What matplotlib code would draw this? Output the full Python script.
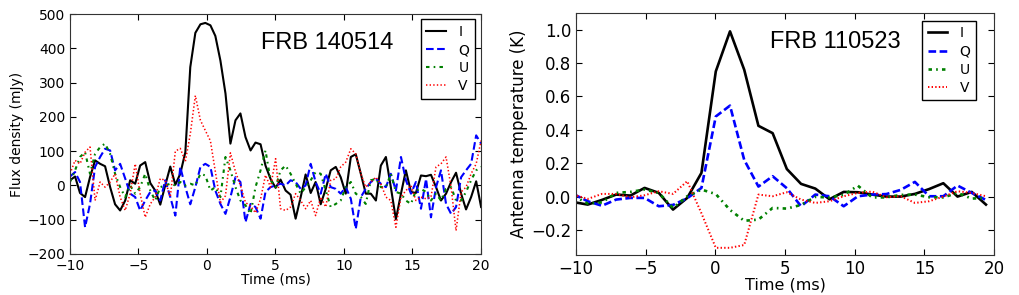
import numpy as np
import matplotlib
matplotlib.use('Agg')
import matplotlib.pyplot as plt

#------------------------------------------------------------------------------#
# FRB 140514 (left panel), flux density in mJy

t_140514 = [-10.00, -9.63, -9.27, -8.90, -8.54, -8.17, -7.80, -7.44, -7.07, -6.71,
            -6.34, -5.97, -5.61, -5.24, -4.88, -4.51, -4.14, -3.78, -3.41, -3.05,
            -2.68, -2.31, -1.95, -1.58, -1.22, -0.85, -0.48, -0.12, 0.25, 0.61,
            0.98, 1.35, 1.71, 2.08, 2.44, 2.81, 3.18, 3.54, 3.91, 4.27,
            4.64, 5.01, 5.37, 5.74, 6.10, 6.47, 6.84, 7.20, 7.57, 7.93,
            8.30, 8.67, 9.03, 9.40, 9.76, 10.13, 10.50, 10.86, 11.23, 11.59,
            11.96, 12.33, 12.69, 13.06, 13.42, 13.79, 14.16, 14.52, 14.89, 15.25,
            15.62, 15.99, 16.35, 16.72, 17.08, 17.45, 17.82, 18.18, 18.55, 18.91,
            19.28, 19.65, 20.01]

I_140514 = [15, 26, -22, -34, 24, 73, 63, 56, -5, -55,
            -73, -44, 15, 5, 58, 68, 7, -15, -56, 0,
            55, 2, 34, 97, 345, 445, 470, 474, 467, 436,
            364, 268, 122, 190, 210, 141, 102, 125, 120, 58,
            19, -7, 17, -15, -27, -97, -34, 32, -22, 10,
            -55, -10, 44, 54, 24, -24, 83, 91, 34, -24,
            -24, -44, 58, 83, -5, -99, -24, 44, -19, -22,
            29, 27, 31, -5, -44, -24, 10, 37, -24, -70,
            -34, 12, -63]

Q_140514 = [26, 39, 10, -122, -54, 54, 83, 107, 102, 44,
            63, 20, -24, -34, -73, -44, -19, -15, -44, 15,
            -34, -88, 54, -5, -55, -5, 54, 63, 54, -15,
            -54, -83, -34, 24, 10, -107, -54, -63, -97, -19,
            -5, 0, 5, 0, 15, 10, -10, 0, 63, 10,
            -24, 34, -5, -10, -24, -5, -39, -127, -34, -10,
            10, 19, 5, -5, 34, -15, 83, 15, -24, 10,
            -68, 19, -93, -5, 44, -54, -83, -63, 24, 44,
            63, 146, 122]

U_140514 = [10, 44, 83, 97, 34, 92, 112, 122, 92, 34,
            -5, -34, 0, -24, -5, 34, -15, -44, -5, 0,
            5, 0, 10, 0, 5, 0, 34, 29, -15, -5,
            -34, 83, 44, -5, -44, -58, -83, -5, 44, 102,
            15, -5, 44, 58, 34, 5, -24, -5, 15, 39,
            34, -15, -63, -54, -44, -5, 10, -24, -34, -54,
            15, 19, -5, -5, 34, -19, -24, -44, -54, -15,
            -10, -19, -44, -24, -44, -10, -5, -44, -44, -19,
            15, 44, 54]

V_140514 = [34, 73, 63, 97, 112, -44, 10, -5, 10, 34,
            -34, -73, -24, 63, -24, -93, -54, -34, 20, 15,
            -34, 100, 108, 70, 150, 262, 190, 160, 130, 40,
            -50, -30, 95, 40, 0, -50, -60, -80, -40, 30,
            -5, 78, -68, -73, -63, -24, -44, -68, -44, -88,
            -34, -63, 15, 19, 54, 68, 107, 92, 34, -5,
            10, 24, 5, -34, -44, -122, -34, -15, 0, -44,
            -34, -39, -34, 54, 63, 83, -5, -132, -19, -5,
            34, 63, 131]

#------------------------------------------------------------------------------#
# FRB 110523 (right panel), antenna temperature in K

t_110523 = [-10.18, -9.16, -8.14, -7.12, -6.10, -5.08, -4.06, -3.04, -2.02, -1.00,
            0.03, 1.05, 2.07, 3.09, 4.11, 5.13, 6.15, 7.17, 8.19, 9.21,
            10.23, 11.25, 12.27, 13.30, 14.32, 15.34, 16.36, 17.38, 18.40, 19.42]

I_110523 = [-0.033, -0.048, -0.020, 0.012, 0.006, 0.052, 0.022, -0.078, -0.008, 0.142,
            0.750, 0.990, 0.760, 0.424, 0.380, 0.165, 0.076, 0.048, -0.016, 0.028,
            0.026, 0.012, 0.000, 0.000, 0.016, 0.045, 0.080, 0.000, 0.028, -0.048]

Q_110523 = [0.015, -0.028, -0.055, -0.018, -0.008, -0.008, -0.058, -0.050, -0.010, 0.052,
            0.480, 0.545, 0.220, 0.060, 0.122, 0.050, -0.058, 0.012, 0.002, -0.058,
            0.002, 0.012, 0.015, 0.040, 0.088, 0.002, 0.002, 0.066, 0.022, -0.020]

U_110523 = [0.005, -0.042, -0.035, 0.022, 0.028, 0.042, 0.022, -0.068, 0.002, 0.042,
            0.015, -0.080, -0.145, -0.138, -0.068, -0.072, -0.050, -0.002, -0.005, 0.010,
            0.065, -0.005, -0.005, 0.010, 0.012, -0.004, -0.005, 0.022, -0.012, -0.008]

V_110523 = [0.012, -0.014, 0.016, 0.016, -0.004, 0.008, 0.032, 0.016, 0.092, -0.100,
            -0.307, -0.307, -0.290, 0.012, 0.002, 0.026, -0.018, -0.038, -0.028, 0.002,
            0.022, 0.030, -0.004, 0.002, -0.038, -0.028, 0.000, 0.032, 0.022, 0.002]

#------------------------------------------------------------------------------#

plt.rcParams['xtick.direction'] = 'in'
plt.rcParams['ytick.direction'] = 'in'
plt.rcParams['xtick.top'] = True
plt.rcParams['ytick.right'] = True
plt.rcParams['legend.fancybox'] = False
plt.rcParams['legend.edgecolor'] = 'black'
plt.rcParams['legend.framealpha'] = 1.0
plt.rcParams['lines.scale_dashes'] = False

fig = plt.figure(figsize = (10.19, 2.95), dpi = 100)
ax1 = fig.add_axes([0.0687, 0.139, 0.4033, 0.8135])
ax2 = fig.add_axes([0.5653, 0.1356, 0.4102, 0.8204])

def draw_panel(ax, t, I, Q, U, V, lw, name, fs):
    # old-style (unscaled) dash patterns, in points
    ax.plot(t, I, color = 'k', ls = '-', lw = lw, label = 'I')
    ax.plot(t, Q, color = 'b', ls = '--', dashes = (5.5, 2.5), lw = lw, label = 'Q')
    ax.plot(t, U, color = 'g', ls = '-.', dashes = (2.5, 3, 1.2, 3), lw = lw, label = 'U')
    ax.plot(t, V, color = 'r', ls = ':', dashes = (1, 1.6), lw = lw * 0.75, label = 'V')
    ax.set_xlim(-10, 20)
    ax.set_xticks([-10, -5, 0, 5, 10, 15, 20])
    ax.text(0.465, 0.88, name, transform = ax.transAxes, fontsize = 17,
        family = 'Liberation Sans', va = 'center', ha = 'left')
    ax.tick_params(labelsize = fs, length = 4, width = 0.8)
    for s in ax.spines.values():
        s.set_color('#333333')

#--------------------------------------------------------------------------#

draw_panel(ax1, t_140514, I_140514, Q_140514, U_140514, V_140514, 1.5, 'FRB 140514', 10)
ax1.set_ylim(-200, 500)
ax1.set_yticks(np.arange(-200, 501, 100))
ax1.set_xlabel('Time (ms)', fontsize = 10, labelpad = 0)
ax1.set_ylabel('Flux density (mJy)', fontsize = 10, labelpad = 2)
ax1.legend(loc = 'upper right', bbox_to_anchor = (0.985, 0.978), borderaxespad = 0,
    fontsize = 10, handlelength = 1.4, handletextpad = 0.9, labelspacing = 0.3,
    borderpad = 0.4)

#--------------------------------------------------------------------------#

draw_panel(ax2, t_110523, I_110523, Q_110523, U_110523, V_110523, 1.9, 'FRB 110523', 12)
ax2.set_ylim(-0.35, 1.1)
ax2.set_yticks([-0.2, 0.0, 0.2, 0.4, 0.6, 0.8, 1.0])
ax2.set_xlabel('Time (ms)', fontsize = 11.5, labelpad = 0)
ax2.set_ylabel('Antenna temperature (K)', fontsize = 12, labelpad = 2)
ax2.legend(loc = 'upper right', bbox_to_anchor = (0.957, 0.968), borderaxespad = 0,
    fontsize = 10, handlelength = 1.4, handletextpad = 0.9, labelspacing = 0.3,
    borderpad = 0.4)

plt.savefig('out.png', dpi = 100)
